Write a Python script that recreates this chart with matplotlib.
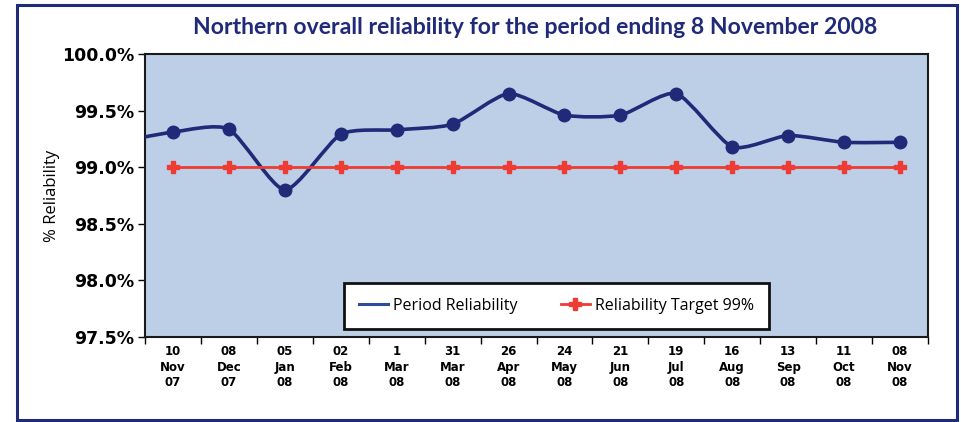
import numpy as np
import matplotlib.pyplot as plt
from matplotlib.path import Path
from matplotlib.patches import PathPatch, Rectangle
from matplotlib.lines import Line2D

# period end dates (day / month / year)
period_days = ["10", "08", "05", "02", "1", "31", "26", "24", "21", "19", "16", "13", "11", "08"]
period_months = ["Nov", "Dec", "Jan", "Feb", "Mar", "Mar", "Apr", "May", "Jun", "Jul", "Aug", "Sep", "Oct", "Nov"]
period_years = ["07", "07", "08", "08", "08", "08", "08", "08", "08", "08", "08", "08", "08", "08"]

period_reliability = [99.31, 99.335, 98.80, 99.29, 99.33, 99.38, 99.65, 99.46, 99.46, 99.65,
                      99.18, 99.28, 99.22, 99.22]
previous_period_reliability = 99.22  # period before the window, only the curve's tail shows
reliability_target = [99.0] * 14

NAVY = "#1f2a78"
RED = "#ee3b33"
BG = "#bccfe6"


def smooth_path(xs, ys, tension=0.11):
    # smoothed line: cubic bezier segments through each point
    verts = [(xs[0], ys[0])]
    codes = [Path.MOVETO]
    n = len(xs)
    for i in range(n - 1):
        x0, y0 = xs[max(i - 1, 0)], ys[max(i - 1, 0)]
        x1, y1 = xs[i], ys[i]
        x2, y2 = xs[i + 1], ys[i + 1]
        x3, y3 = xs[min(i + 2, n - 1)], ys[min(i + 2, n - 1)]
        c1 = (x1 + (x2 - x0) * tension, y1 + (y2 - y0) * tension)
        c2 = (x2 - (x3 - x1) * tension, y2 - (y3 - y1) * tension)
        verts += [c1, c2, (x2, y2)]
        codes += [Path.CURVE4] * 3
    return Path(verts, codes)


fig = plt.figure(figsize=(9.61, 4.22), dpi=100)
fig.patch.set_facecolor("white")

# outer frame
fig.patches.append(Rectangle((17 / 961, 1 - 420 / 422), 940 / 961, 415 / 422,
                             transform=fig.transFigure, fill=False, edgecolor=NAVY, linewidth=2.2))

ax = fig.add_axes([145 / 961, 1 - 337 / 422, 783 / 961, 283 / 422])
ax.set_facecolor(BG)

x = np.arange(len(period_reliability))
xs = np.concatenate([[-1], x])
ys = np.concatenate([[previous_period_reliability], period_reliability])
ax.add_patch(PathPatch(smooth_path(xs, ys), facecolor="none", edgecolor=NAVY, linewidth=2.6,
                       clip_on=True, zorder=3))
ax.plot(x, period_reliability, linestyle="none", marker="o", markersize=9, color=NAVY, zorder=4)
ax.plot(x, reliability_target, color=RED, linewidth=2, marker="P", markersize=8, zorder=3)

ax.set_xlim(-0.5, len(x) - 0.5)
ax.set_ylim(97.5, 100.0)
ax.set_yticks([97.5, 98.0, 98.5, 99.0, 99.5, 100.0])
ax.set_yticklabels([f"{v:.1f}%" for v in ax.get_yticks()], fontsize=12.5, fontweight="bold",
                   family="DejaVu Sans")
ax.set_xticks(np.arange(len(x) + 1) - 0.5)
ax.set_xticklabels([])
ax.set_xticks(x, minor=True)
ax.set_xticklabels([f"{d}\n{m}\n{y}" for d, m, y in zip(period_days, period_months, period_years)],
                   minor=True, fontsize=8.5, fontweight="bold", linespacing=1.25)
ax.tick_params(axis="x", which="minor", length=0, pad=6)
ax.tick_params(axis="x", which="major", length=5, width=1)
ax.tick_params(axis="y", length=5, width=1, pad=3)
for s in ax.spines.values():
    s.set_linewidth(1.5)
    s.set_color("#1a1a1a")

ax.set_ylabel("% Reliability", fontsize=12, family="Open Sans", labelpad=1)

fig.text(535 / 961, 1 - 28 / 422, "Northern overall reliability for the period ending 8 November 2008",
         ha="center", va="center", fontsize=16.6, fontweight="bold", color=NAVY, family="Lato")

handles = [Line2D([], [], color="#2b4c9b", linewidth=2.2),
           Line2D([], [], color=RED, linewidth=2, marker="P", markersize=8)]
leg = ax.legend(handles, ["Period Reliability", "Reliability Target 99%"], loc="lower center",
                bbox_to_anchor=(0.5255, 0.0), ncol=2, frameon=True, fancybox=False,
                handlelength=1.8, handletextpad=0.35, columnspacing=2.7, borderpad=0.95,
                framealpha=1, prop={"family": "Open Sans", "size": 11.5})
leg.get_frame().set_edgecolor("#111111")
leg.get_frame().set_linewidth(2)

fig.savefig("out.png", dpi=100)
